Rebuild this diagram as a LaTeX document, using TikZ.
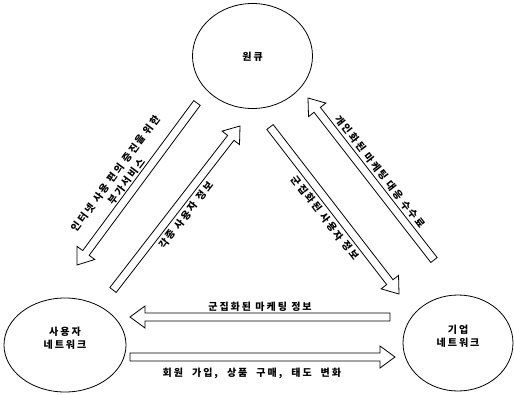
\documentclass[tikz,border=0pt]{standalone}
\usepackage{fontspec}
\newfontfamily\kr[LetterSpace=20]{Noto Sans CJK KR}
\usetikzlibrary{calc,shapes.geometric}
\tikzset{
  bubble/.style={draw, line width=0.8pt, ellipse, inner sep=0pt},
  lbl/.style={font={\kr\fontsize{10}{13}\selectfont\bfseries}, inner sep=0pt, align=center},
  blk/.style={draw, line width=0.8pt, fill=white, line join=miter},
}
\newcommand\blockarr[2]{%
  \coordinate (h) at ($(#2)!15pt!(#1)$);
  \draw[blk] ($(#1)!4pt!90:(#2)$) -- ($(h)!4pt!-90:(#1)$) -- ($(h)!11pt!-90:(#1)$) -- (#2)
    -- ($(h)!11pt!90:(#1)$) -- ($(h)!4pt!90:(#1)$) -- ($(#1)!4pt!-90:(#2)$) -- cycle;}
\begin{document}
\begin{tikzpicture}[x=1pt,y=-1pt]
\useasboundingbox (0,0) rectangle (514,394);
\node[bubble, minimum width=120pt, minimum height=105pt] (wq) at (252.5,56) {};
\node[lbl] (wqt) at (252.5,57) {원큐};
\node[bubble, minimum width=122pt, minimum height=94pt] (un) at (65,345) {};
\node[lbl] (unt) at (65,338) {사용자\\네트워크};
\node[bubble, minimum width=110pt, minimum height=96pt] (cn) at (458,343) {};
\node[lbl] (cnt) at (458,336) {기업\\네트워크};

\coordinate (a1s) at (197,103); \coordinate (a1t) at (77,265);
\coordinate (a2s) at (113,290); \coordinate (a2t) at (240,126);
\coordinate (a3s) at (270,127); \coordinate (a3t) at (399,294);
\coordinate (a4s) at (434,260); \coordinate (a4t) at (308,98);
\coordinate (b1s) at (390,317); \coordinate (b1t) at (130,317);
\coordinate (b2s) at (130,357); \coordinate (b2t) at (395,357);

\blockarr{a1s}{a1t}
\blockarr{a2s}{a2t}
\blockarr{a3s}{a3t}
\blockarr{a4s}{a4t}
\blockarr{b1s}{b1t}
\blockarr{b2s}{b2t}

\path (a1s) -- (a1t) node[lbl, sloped, pos=0.52, above=5pt] (l1) {인터넷 사용 편의 증진을 위한\\[0.5pt]부가서비스};
\path (a2s) -- (a2t) node[lbl, sloped, pos=0.5, below=7pt] (l2) {각종 사용자 정보};
\path (a3s) -- (a3t) node[lbl, sloped, pos=0.5, below=7pt] (l3) {군집화된 사용자 정보};
\path (a4s) -- (a4t) node[lbl, sloped, pos=0.5, above=7pt] (l4) {개인화된 마케팅 대응 수수료};
\path (b1s) -- (b1t) node[lbl, pos=0.5, above=5pt] (l5) {군집화된 마케팅 정보};
\path (b2s) -- (b2t) node[lbl, pos=0.46, below=11pt] (l6) {\spaceskip=9pt\relax 회원 가입, 상품 구매, 태도 변화};
\end{tikzpicture}
\end{document}
